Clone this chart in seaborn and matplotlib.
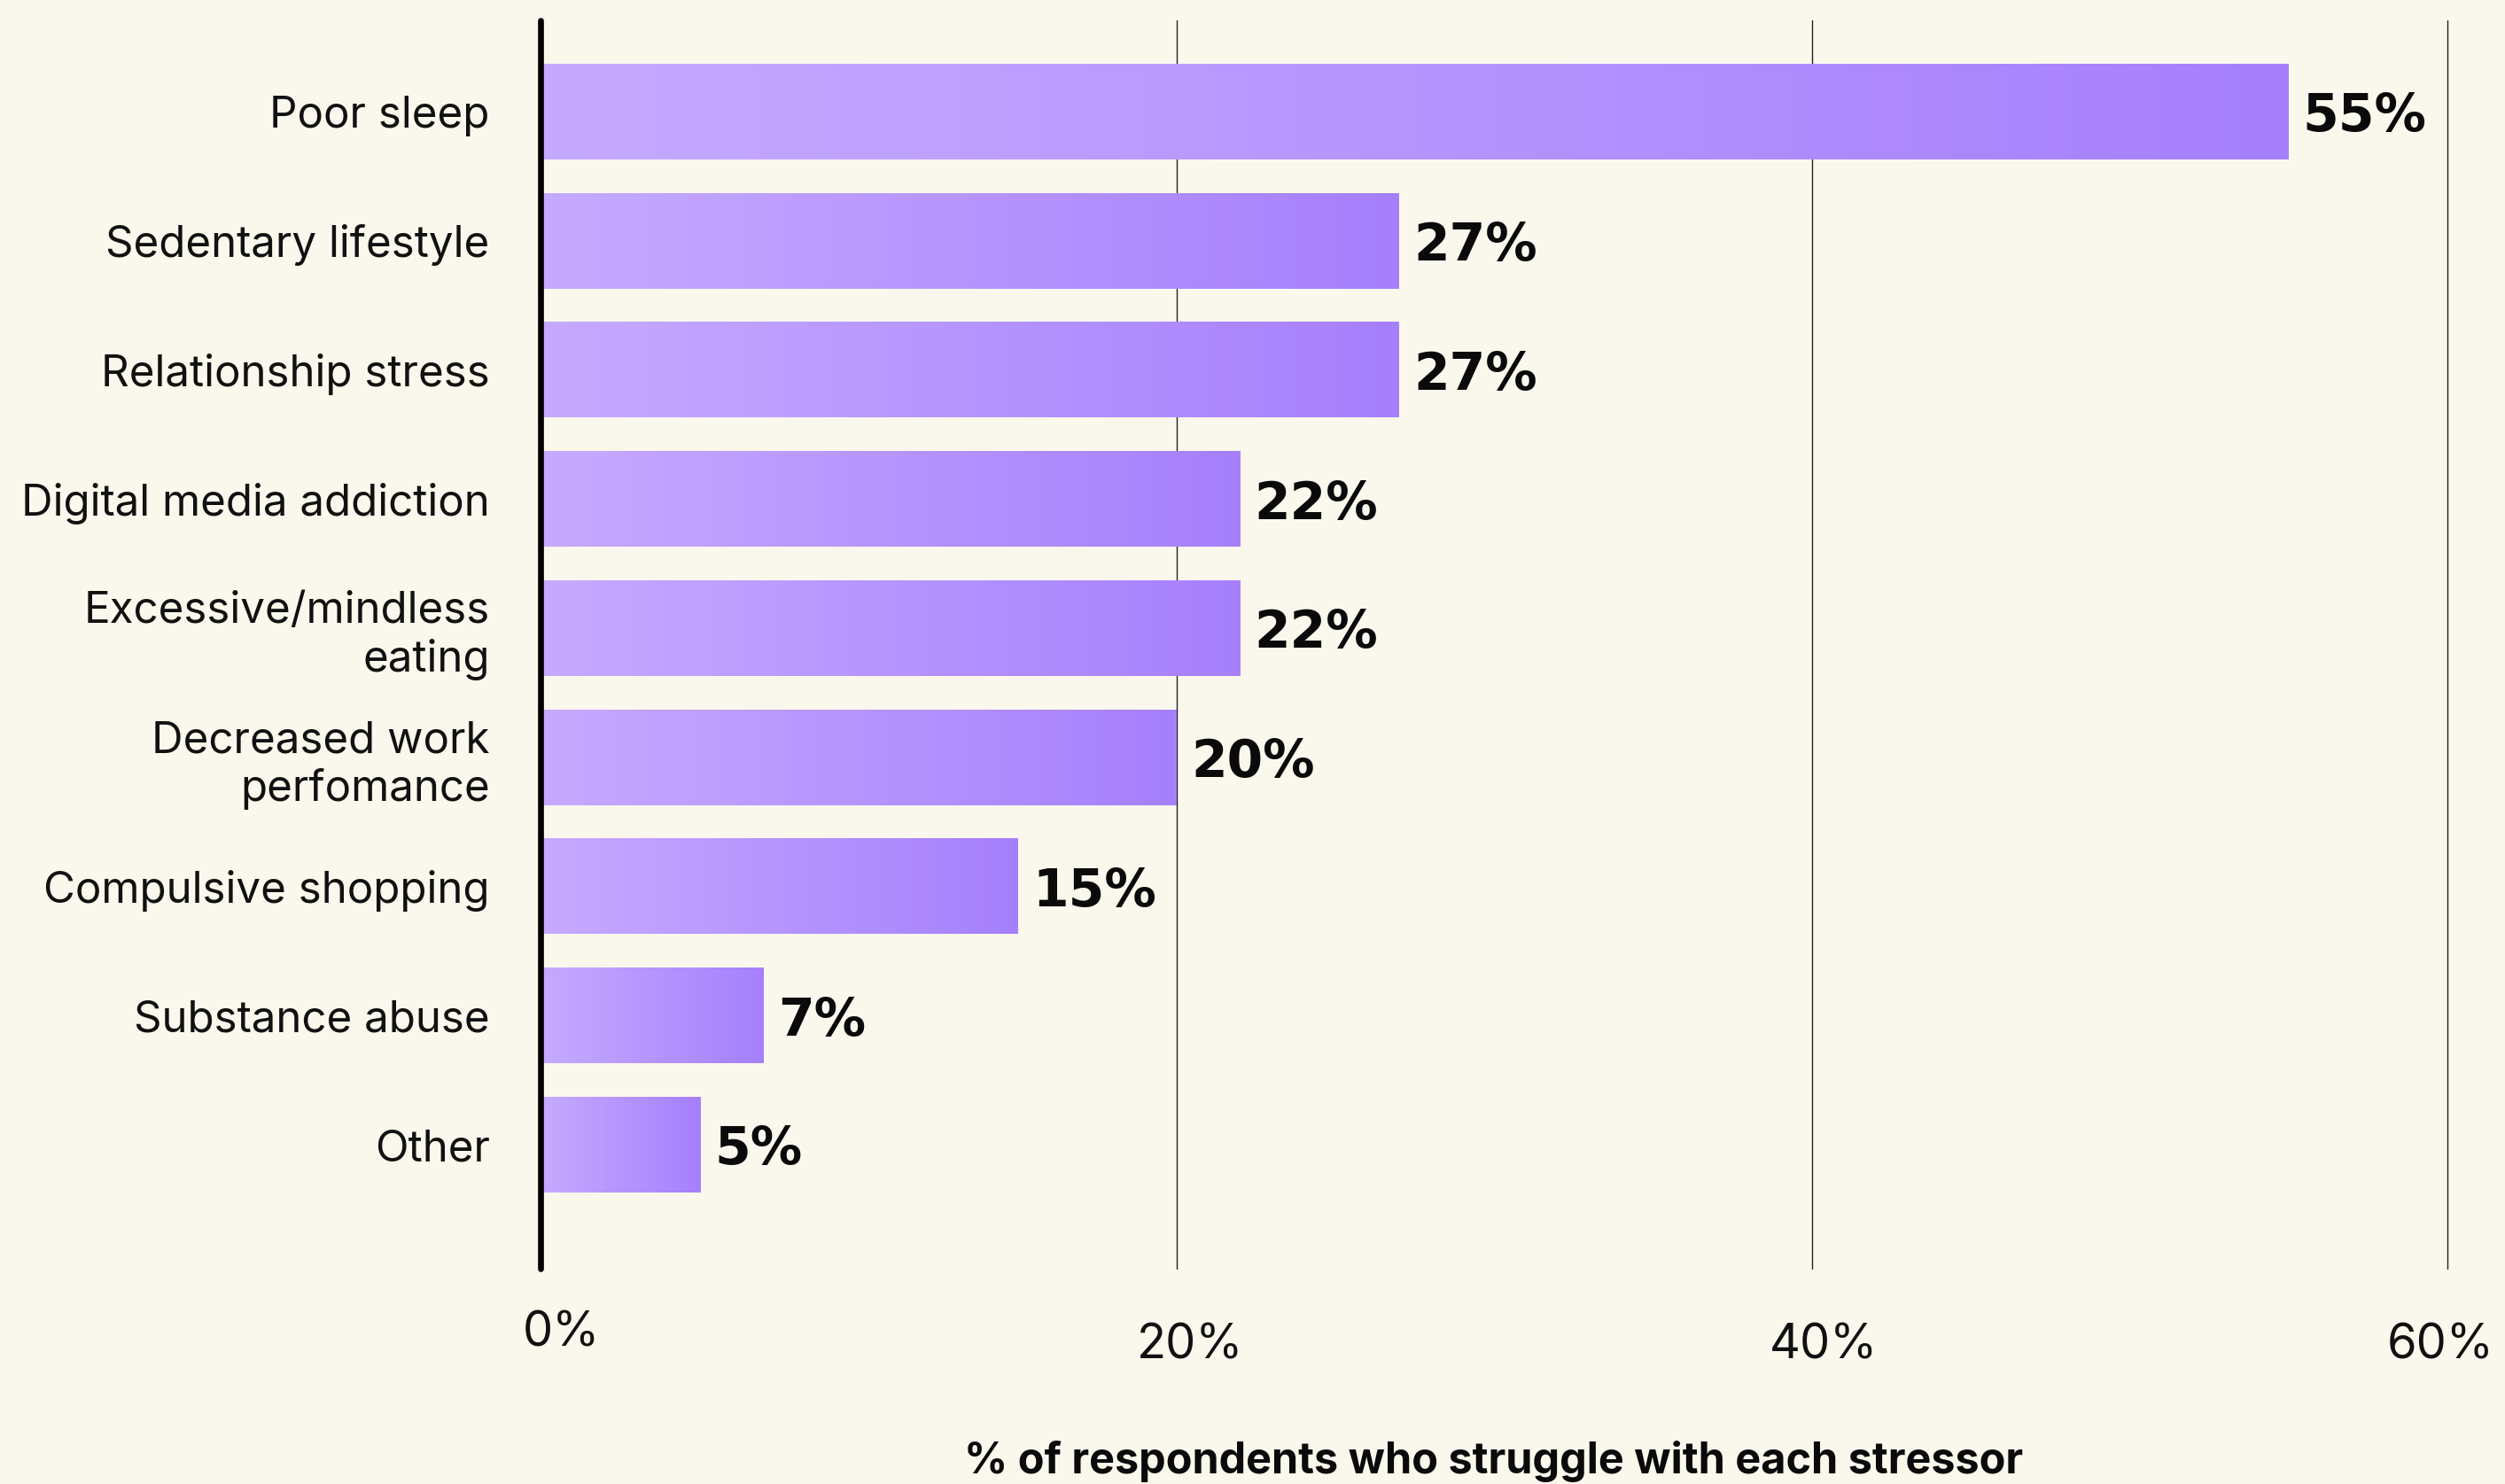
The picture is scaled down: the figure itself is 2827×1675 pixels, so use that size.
import numpy as np
import pandas as pd
import matplotlib
matplotlib.use("Agg")
import matplotlib.pyplot as plt
import seaborn as sns
from matplotlib.colors import LinearSegmentedColormap
from matplotlib.transforms import ScaledTranslation

# Stressors and the share of respondents struggling with each
categories = [
    "Poor sleep",
    "Sedentary lifestyle",
    "Relationship stress",
    "Digital media addiction",
    "Excessive/mindless\neating",
    "Decreased work\nperfomance",
    "Compulsive shopping",
    "Substance abuse",
    "Other",
]
shares = [55, 27, 27, 22, 22, 20, 15, 7, 5]
tick_values = [0, 20, 40, 60]
tick_labels = ["0%", "20%", "40%", "60%"]
x_title = "% of respondents who struggle with each stressor"

BG = "#FAF8EC"
BAR_LIGHT = "#C6AAFF"
BAR_DARK = "#A680FC"

sns.set_theme(style="white")
plt.rcParams["font.family"] = ["Inter", "DejaVu Sans"]
plt.rcParams["text.color"] = "#111111"

df = pd.DataFrame({"stressor": categories, "share": shares})

W, H = 2827, 1675
fig = plt.figure(figsize=(W / 100, H / 100), dpi=100, facecolor=BG)
left, right, top, bottom = 611, 2762, 23, 1432
ax = fig.add_axes([left / W, 1 - bottom / H, (right - left) / W, (bottom - top) / H])
ax.set_facecolor(BG)

sns.barplot(data=df, y="stressor", x="share", orient="h", width=0.74,
            color=BAR_DARK, saturation=1, ax=ax, zorder=2)

# Left-to-right lavender gradient inside each bar
cmap = LinearSegmentedColormap.from_list("lav", [BAR_LIGHT, BAR_DARK])
grad = np.linspace(0, 1, 256).reshape(1, -1)
for patch in list(ax.patches):
    x0, y0 = patch.get_x(), patch.get_y()
    w, h = patch.get_width(), patch.get_height()
    patch.set_alpha(0)
    ax.imshow(grad, extent=[x0, x0 + w, y0 + h, y0], cmap=cmap,
              aspect="auto", interpolation="bicubic", zorder=2)

ax.set_xlim(0, 60)
ax.set_ylim(8.96, -0.706)

# Value labels at the end of each bar
for i, v in enumerate(shares):
    ax.text(v + 0.45, i + 0.04, f"{v}%", ha="left", va="center",
            fontsize=42, fontweight="bold", family="DejaVu Sans",
            color="#0a0a0a", zorder=3)

# Axes styling: vertical guides at each tick, heavy baseline at zero
for s in ax.spines.values():
    s.set_visible(False)
ax.grid(False)
for v in tick_values[1:]:
    ax.axvline(v, color="#222222", linewidth=1.0, zorder=1, clip_on=False)
ax.axvline(-0.04, color="#000000", linewidth=4.8, zorder=4, clip_on=False)

ax.set_xticks(tick_values)
ax.set_xticklabels(tick_labels)
ax.tick_params(axis="x", length=0, pad=44, labelsize=39, labelcolor="#111111")
ax.tick_params(axis="y", length=0, pad=42, labelsize=35.5, labelcolor="#111111")
ax.set_xlabel("")
ax.set_ylabel("")
for lab in ax.get_yticklabels():
    lab.set_horizontalalignment("right")

# Small per-label nudges of the percentage ticks (inches: right, up)
nudges = [(0.22, 0.14), (0.15, 0.0), (0.13, 0.0), (-0.08, 0.0)]
for lab, (dx, dy) in zip(ax.get_xticklabels(), nudges):
    lab.set_transform(lab.get_transform() + ScaledTranslation(dx, dy, fig.dpi_scale_trans))

fig.text(1686 / W, 0.007, x_title, ha="center", va="baseline",
         fontsize=35, fontweight="bold", color="#0a0a0a")

fig.savefig("out.png", dpi=100, facecolor=BG)
